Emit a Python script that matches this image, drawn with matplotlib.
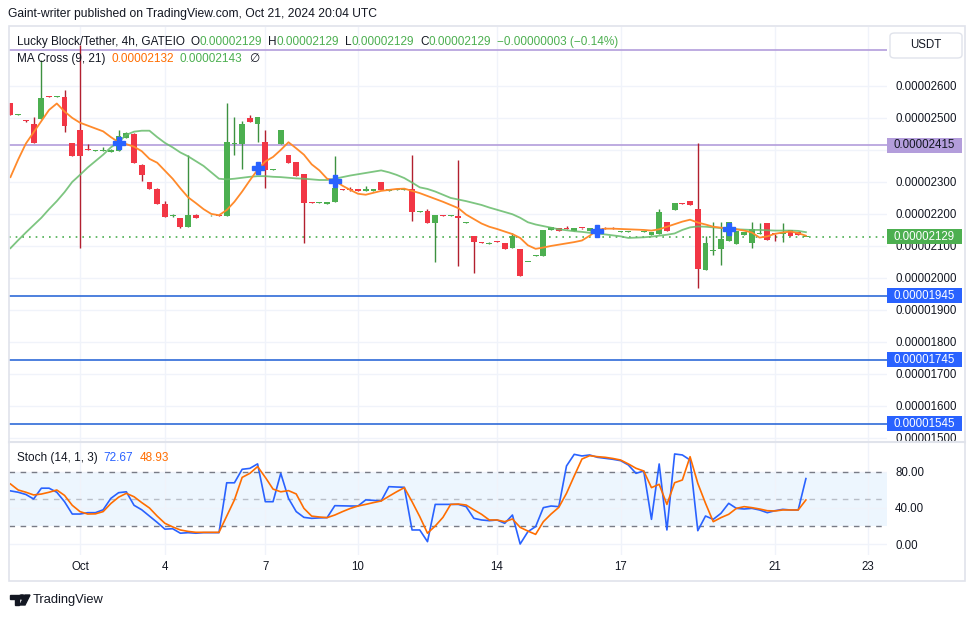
import matplotlib

matplotlib.use("Agg")
import matplotlib.pyplot as plt
import numpy as np
from matplotlib.patches import Circle, FancyBboxPatch, Polygon, Rectangle
from matplotlib.lines import Line2D
from matplotlib.transforms import blended_transform_factory

plt.rcParams["font.family"] = ["Liberation Sans", "DejaVu Sans"]

W, H = 976, 617
S = 1e-8  # prices below are in units of 0.00000001 USDT

# 4h candles, Lucky Block / USDT (GATEIO), one entry per bar
open_ = [2548, 2510, 2492, 2482, 2497, 2566, 2564, 2565, 2422, 2463,
         2402, 2398, 2398, 2393, 2396, 2438, 2451, 2352, 2301, 2277,
         2232, 2195, 2187, 2160, 2197, 2192, 2192, 2195, 2194, 2420,
         2420, 2501, 2480, 2424, 2336, 2420, 2383, 2362, 2324, 2235,
         2234, 2232, 2236, 2277, 2276, 2279, 2271, 2272, 2300, 2272,
         2276, 2276, 2277, 2207, 2210, 2172, 2196, 2193, 2193, 2173,
         2131, 2110, 2105, 2114, 2109, 2094, 2091, 2049, 2070, 2070,
         2150, 2156, 2156, 2147, 2156, 2147, 2147, 2154, 2154, 2143,
         2143, 2144, 2143, 2134, 2137, 2174, 2213, 2234, 2240, 2215,
         2025, 2085, 2089, 2114, 2106, 2134, 2109, 2136, 2171, 2138,
         2137, 2150, 2142, 2129]
high = [2548, 2512, 2494, 2503, 2680, 2568, 2568, 2588, 2422, 2727,
        2418, 2400, 2410, 2402, 2463, 2455, 2453, 2355, 2301, 2282,
        2240, 2199, 2188, 2384, 2200, 2195, 2196, 2196, 2548, 2502,
        2489, 2508, 2503, 2463, 2339, 2463, 2383, 2362, 2326, 2236,
        2238, 2236, 2380, 2278, 2283, 2279, 2287, 2278, 2300, 2277,
        2278, 2278, 2383, 2209, 2215, 2196, 2197, 2197, 2367, 2175,
        2131, 2111, 2111, 2116, 2109, 2139, 2091, 2051, 2072, 2150,
        2159, 2156, 2162, 2156, 2157, 2156, 2149, 2158, 2158, 2146,
        2146, 2144, 2146, 2145, 2216, 2174, 2234, 2234, 2240, 2422,
        2132, 2174, 2174, 2174, 2147, 2144, 2174, 2171, 2171, 2138,
        2171, 2150, 2144, 2129]
low = [2510, 2508, 2488, 2422, 2497, 2564, 2564, 2455, 2380, 2094,
       2400, 2398, 2398, 2393, 2396, 2438, 2360, 2303, 2277, 2230,
       2189, 2190, 2155, 2160, 2188, 2192, 2192, 2192, 2192, 2384,
       2339, 2486, 2424, 2280, 2336, 2420, 2358, 2318, 2109, 2233,
       2233, 2232, 2236, 2274, 2273, 2271, 2271, 2272, 2275, 2272,
       2276, 2276, 2179, 2207, 2172, 2051, 2195, 2193, 2037, 2173,
       2015, 2108, 2105, 2112, 2090, 2094, 2005, 2049, 2070, 2070,
       2150, 2147, 2154, 2147, 2154, 2147, 2146, 2152, 2152, 2143,
       2143, 2142, 2143, 2134, 2137, 2147, 2213, 2232, 2227, 1969,
       2025, 2072, 2040, 2114, 2106, 2134, 2093, 2136, 2118, 2115,
       2112, 2132, 2134, 2129]
close = [2510, 2511, 2490, 2422, 2562, 2564, 2566, 2476, 2380, 2380,
         2400, 2399, 2399, 2401, 2445, 2453, 2360, 2323, 2277, 2230,
         2189, 2198, 2160, 2196, 2188, 2194, 2194, 2193, 2424, 2422,
         2482, 2486, 2503, 2337, 2338, 2463, 2358, 2318, 2234, 2234,
         2236, 2236, 2280, 2276, 2274, 2271, 2279, 2278, 2275, 2277,
         2277, 2277, 2207, 2208, 2172, 2196, 2195, 2195, 2188, 2174,
         2113, 2108, 2107, 2112, 2090, 2132, 2005, 2050, 2071, 2150,
         2159, 2147, 2154, 2156, 2155, 2156, 2148, 2152, 2152, 2145,
         2145, 2142, 2145, 2145, 2207, 2147, 2234, 2232, 2227, 2029,
         2109, 2088, 2122, 2174, 2147, 2142, 2153, 2138, 2118, 2136,
         2139, 2132, 2134, 2129]

# MA Cross (9, 21) per bar
ma_fast = [2315, 2370, 2420, 2455, 2490, 2525, 2545, 2520, 2500, 2485,
           2476, 2467, 2458, 2440, 2424, 2418, 2410, 2396, 2372, 2360,
           2335, 2310, 2280, 2252, 2234, 2215, 2200, 2196, 2212, 2238,
           2270, 2305, 2338, 2364, 2378, 2400, 2424, 2405, 2385, 2355,
           2336, 2310, 2304, 2288, 2275, 2263, 2260, 2266, 2272, 2275,
           2278, 2279, 2272, 2265, 2256, 2247, 2238, 2228, 2218, 2198,
           2184, 2170, 2160, 2153, 2145, 2137, 2125, 2102, 2091, 2095,
           2100, 2104, 2108, 2112, 2117, 2132, 2150, 2154, 2154, 2153,
           2152, 2151, 2150, 2148, 2152, 2160, 2168, 2176, 2182, 2173,
           2167, 2160, 2157, 2155, 2152, 2148, 2142, 2126, 2130, 2138,
           2142, 2145, 2140, 2132]
ma_slow = [2093, 2118, 2142, 2165, 2188, 2215, 2240, 2268, 2300, 2322,
           2345, 2365, 2385, 2408, 2425, 2447, 2457, 2460, 2460, 2440,
           2422, 2408, 2392, 2380, 2365, 2350, 2330, 2310, 2308, 2310,
           2313, 2316, 2318, 2318, 2316, 2315, 2313, 2311, 2310, 2308,
           2306, 2306, 2310, 2315, 2320, 2324, 2328, 2332, 2336, 2330,
           2322, 2312, 2298, 2283, 2278, 2270, 2260, 2250, 2245, 2240,
           2234, 2228, 2220, 2213, 2206, 2199, 2188, 2174, 2167, 2162,
           2157, 2152, 2149, 2146, 2144, 2141, 2139, 2136, 2133, 2130,
           2125, 2126, 2127, 2129, 2132, 2135, 2139, 2150, 2158, 2161,
           2160, 2158, 2156, 2154, 2152, 2151, 2150, 2150, 2149, 2148,
           2148, 2148, 2147, 2143]
cross_bars = [14, 32, 42, 76, 93]
cross_prices = [2423, 2344, 2303, 2146, 2153]

# Stoch (14, 1, 3)
stoch_k = [59, 57.5, 55, 50, 62, 62, 57.5, 47, 33.3, 33.3,
           34.8, 34.8, 38, 50.7, 57, 58, 43, 38, 31, 24,
           16.5, 17, 12, 12.6, 12, 12.6, 12.6, 12.6, 68, 68,
           83, 84, 89, 47, 47, 78.5, 50.7, 36, 29.6, 28.5,
           29, 29.3, 42.6, 42.4, 42.2, 42.2, 49, 48.5, 47.8, 63.7,
           63.3, 63, 15.6, 15.6, 2.6, 44, 44, 44, 44, 41.5,
           28.5, 26.7, 25.9, 26.7, 23, 32.2, 0, 13.7, 19.3, 40.4,
           42.2, 41.5, 86.7, 99.6, 97.8, 98.9, 96.3, 95.2, 94.1, 92.6,
           87.8, 78.5, 81.1, 27.4, 88.9, 15.6, 100, 98.9, 93.3, 14.8,
           31.1, 27.4, 34.1, 45.2, 39.6, 38.9, 39.6, 37.8, 34.8, 37,
           38.5, 37.8, 37.8, 72.67]
stoch_d = [66.7, 60, 57.5, 54.5, 55.5, 57.5, 60, 54, 43, 36,
           33.3, 33.5, 36, 45, 52, 56.3, 52.5, 46, 40, 31,
           23, 19, 15.6, 14, 13, 13, 13, 13, 31, 49,
           74, 78.5, 86, 74, 61, 58, 59.3, 55.6, 39.6, 31,
           30, 29.3, 32.2, 36, 39.5, 42.2, 44, 46, 47.8, 53,
           58, 62.6, 47, 30.4, 12, 20, 29.6, 44, 44.4, 43.3,
           38, 33, 26.7, 26.7, 24.8, 27.8, 18.5, 14.4, 10.7, 24.8,
           33.3, 40.7, 56.3, 75.6, 94.4, 98.1, 97, 96.3, 95, 93.3,
           89, 84.1, 81.1, 62.6, 66.3, 44, 68.1, 71.1, 97, 67.4,
           45.2, 24.8, 29.3, 33, 39.6, 41.5, 40.4, 38.9, 37, 36.7,
           37.8, 37.8, 37.8, 48.93]

date_ticks = [9, 20, 33, 45, 63, 79, 99, 111]
date_labels = ["Oct", "4", "7", "10", "14", "17", "21", "23"]
price_ticks = [1500, 1600, 1700, 1800, 1900, 2000, 2100, 2200, 2300, 2400, 2500, 2600]
purple_levels = [2712, 2415]
blue_levels = [1945, 1745, 1545]
last_price = 2129

DARK = "#131722"
GREEN = "#4caf50"
RED = "#f23645"
ORANGE = "#ff6d00"
BLUE = "#2962ff"
PURPLE = "#b39ddb"
GRID = "#f0f3fa"
FS = 8.3


def fx(px):
    return px / W


def fy(py):
    return 1 - py / H


def text_runs(fig, x_px, y_px, runs, size=8.45):
    renderer = fig.canvas.get_renderer()
    for s, color, gap in runs:
        t = fig.text(fx(x_px), fy(y_px), s, color=color, fontsize=size, va="center", ha="left", zorder=10)
        x_px += t.get_window_extent(renderer).width + gap


fig = plt.figure(figsize=(W / 100, H / 100), dpi=100)
fig.patch.set_facecolor("white")
ax = fig.add_axes([fx(9), fy(441), fx(887) - fx(9), fy(27) - fy(441)])
ax2 = fig.add_axes([fx(9), fy(555), fx(887) - fx(9), fy(442) - fy(555)])

o = np.array(open_, float)
h = np.array(high, float)
lo = np.array(low, float)
c = np.array(close, float)
x = np.arange(len(o))
up = c >= o

for a in (ax, ax2):
    for sp in a.spines.values():
        sp.set_visible(False)
    a.set_xlim(-0.19, 113.5)
    a.set_xticks(date_ticks)
    a.grid(True, color=GRID, linewidth=1, zorder=0)
    a.set_axisbelow(True)

# price panel
ax.vlines(x, lo * S, h * S, colors=np.where(up, "#3d9140", "#b2202f"), linewidth=1, zorder=2)
body_lo = np.minimum(o, c)
body_h = np.maximum(np.abs(c - o), 3.0)
ax.bar(x, body_h * S, bottom=body_lo * S, width=0.75, color=np.where(up, GREEN, RED), linewidth=0, zorder=3)
ax.plot(x, np.array(ma_slow) * S, color="#66bb6a", linewidth=1.3, alpha=0.85, zorder=4)
ax.plot(x, np.array(ma_fast) * S, color="#ff8a2b", linewidth=1.3, zorder=4)
ax.plot(cross_bars, np.array(cross_prices) * S, marker="P", markersize=9, color=BLUE, linestyle="none", zorder=5)

for lvl in purple_levels:
    ax.axhline(lvl * S, color=PURPLE, linewidth=1.2, zorder=1.5)
for lvl in blue_levels:
    ax.axhline(lvl * S, color="#2f6bd8", linewidth=1.2, zorder=1.5)
ax.axhline(last_price * S, color=GREEN, linewidth=1.2, linestyle=(0, (1, 3)), zorder=1.5)

ax.set_ylim(1490.6 * S, 2784 * S)
ax.yaxis.tick_right()
ax.set_yticks(np.array(price_ticks) * S)
# the 2400 label sits under the 0.00002415 level box on the scale
ax.set_yticklabels(["" if v == 2400 else f"{v * S:.8f}" for v in price_ticks])
ax.tick_params(axis="y", length=0, pad=5.8, labelsize=FS, labelcolor=DARK)
ax.tick_params(axis="x", length=0, labelbottom=False)

tr = blended_transform_factory(ax.transAxes, ax.transData)
box_w = 75 / 878
box_h = 15 * 3.125
scale_boxes = [(2415, PURPLE, DARK), (last_price, GREEN, "white")] + [(b, BLUE, "white") for b in blue_levels]
for lvl, fc, tc in scale_boxes:
    ax.add_patch(Rectangle((1.0, (lvl - box_h / 2) * S), box_w, box_h * S, transform=tr,
                           facecolor=fc, edgecolor="none", clip_on=False, zorder=6))
    ax.text(1.0 + box_w / 2, lvl * S, f"{lvl * S:.8f}", transform=tr, ha="center", va="center",
            fontsize=FS, color=tc, zorder=7, clip_on=False)

# stochastic panel
ax2.axhspan(20, 80, color="#2196f3", alpha=0.08, linewidth=0, zorder=0.5)
ax2.axhline(80, color="#787b86", linewidth=1, linestyle=(0, (4, 4)), zorder=1)
ax2.axhline(20, color="#787b86", linewidth=1, linestyle=(0, (4, 4)), zorder=1)
ax2.axhline(50, color="#787b86", linewidth=1, linestyle=(0, (4, 4)), alpha=0.45, zorder=1)
ax2.plot(x, stoch_k, color=BLUE, linewidth=1.2, zorder=3)
ax2.plot(x, stoch_d, color=ORANGE, linewidth=1.2, zorder=3)
ax2.set_ylim(-12.2, 113.3)
ax2.yaxis.tick_right()
ax2.set_yticks([0, 40, 80])
ax2.set_yticklabels(["0.00", "40.00", "80.00"])
ax2.tick_params(axis="y", length=0, pad=5.8, labelsize=FS, labelcolor=DARK)
ax2.set_xticklabels(date_labels)
ax2.tick_params(axis="x", length=0, pad=4.5, labelsize=FS, labelcolor=DARK)

# frame and separators
fig.add_artist(Rectangle((fx(9), fy(581)), fx(965) - fx(9), fy(26) - fy(581), transform=fig.transFigure,
                         fill=False, edgecolor="#e0e3eb", linewidth=1.2))
fig.add_artist(Line2D([fx(9), fx(965)], [fy(441.5), fy(441.5)], color="#e0e3eb", linewidth=1.5))

fig.add_artist(FancyBboxPatch((fx(890), fy(58)), fx(72), 25 / H, transform=fig.transFigure,
                              boxstyle="round,pad=0,rounding_size=0.005", facecolor="white",
                              edgecolor="#e0e3eb", linewidth=1))
fig.text(fx(926), fy(45.5), "USDT", ha="center", va="center", fontsize=FS, color=DARK)

# texts
fig.text(fx(8), fy(14), "Gaint-writer published on TradingView.com, Oct 21, 2024 20:04 UTC",
         fontsize=8.75, color=DARK, va="center", ha="left")
text_runs(fig, 17, 42, [
    ("Lucky Block/Tether, 4h, GATEIO", DARK, 6),
    ("O", DARK, 0), ("0.00002129", GREEN, 6),
    ("H", DARK, 0), ("0.00002129", GREEN, 6),
    ("L", DARK, 0), ("0.00002129", GREEN, 6),
    ("C", DARK, 0), ("0.00002129", GREEN, 6),
    ("\u22120.00000003 (\u22120.14%)", GREEN, 0),
])
text_runs(fig, 17, 59, [
    ("MA Cross (9, 21)", DARK, 6),
    ("0.00002132", ORANGE, 6),
    ("0.00002143", GREEN, 6),
    ("\u2205", DARK, 0),
])
text_runs(fig, 17, 458, [
    ("Stoch (14, 1, 3)", DARK, 6),
    ("72.67", BLUE, 6),
    ("48.93", ORANGE, 0),
])

# TradingView logo
ft = fig.transFigure
fig.add_artist(Polygon([(fx(10), fy(595)), (fx(19), fy(595)), (fx(19), fy(605)), (fx(15), fy(605)),
                        (fx(15), fy(599)), (fx(10), fy(599))], closed=True, transform=ft, color=DARK))
fig.add_artist(Circle((fx(22), fy(597)), 2.1 / H, transform=ft, color=DARK))
fig.add_artist(Polygon([(fx(25), fy(595)), (fx(30), fy(595)), (fx(25), fy(605)), (fx(20), fy(605))],
                       closed=True, transform=ft, color=DARK))
fig.text(fx(33), fy(600), "TradingView", fontsize=9.3, color=DARK, va="center", ha="left")

fig.savefig("out.png", dpi=100)
